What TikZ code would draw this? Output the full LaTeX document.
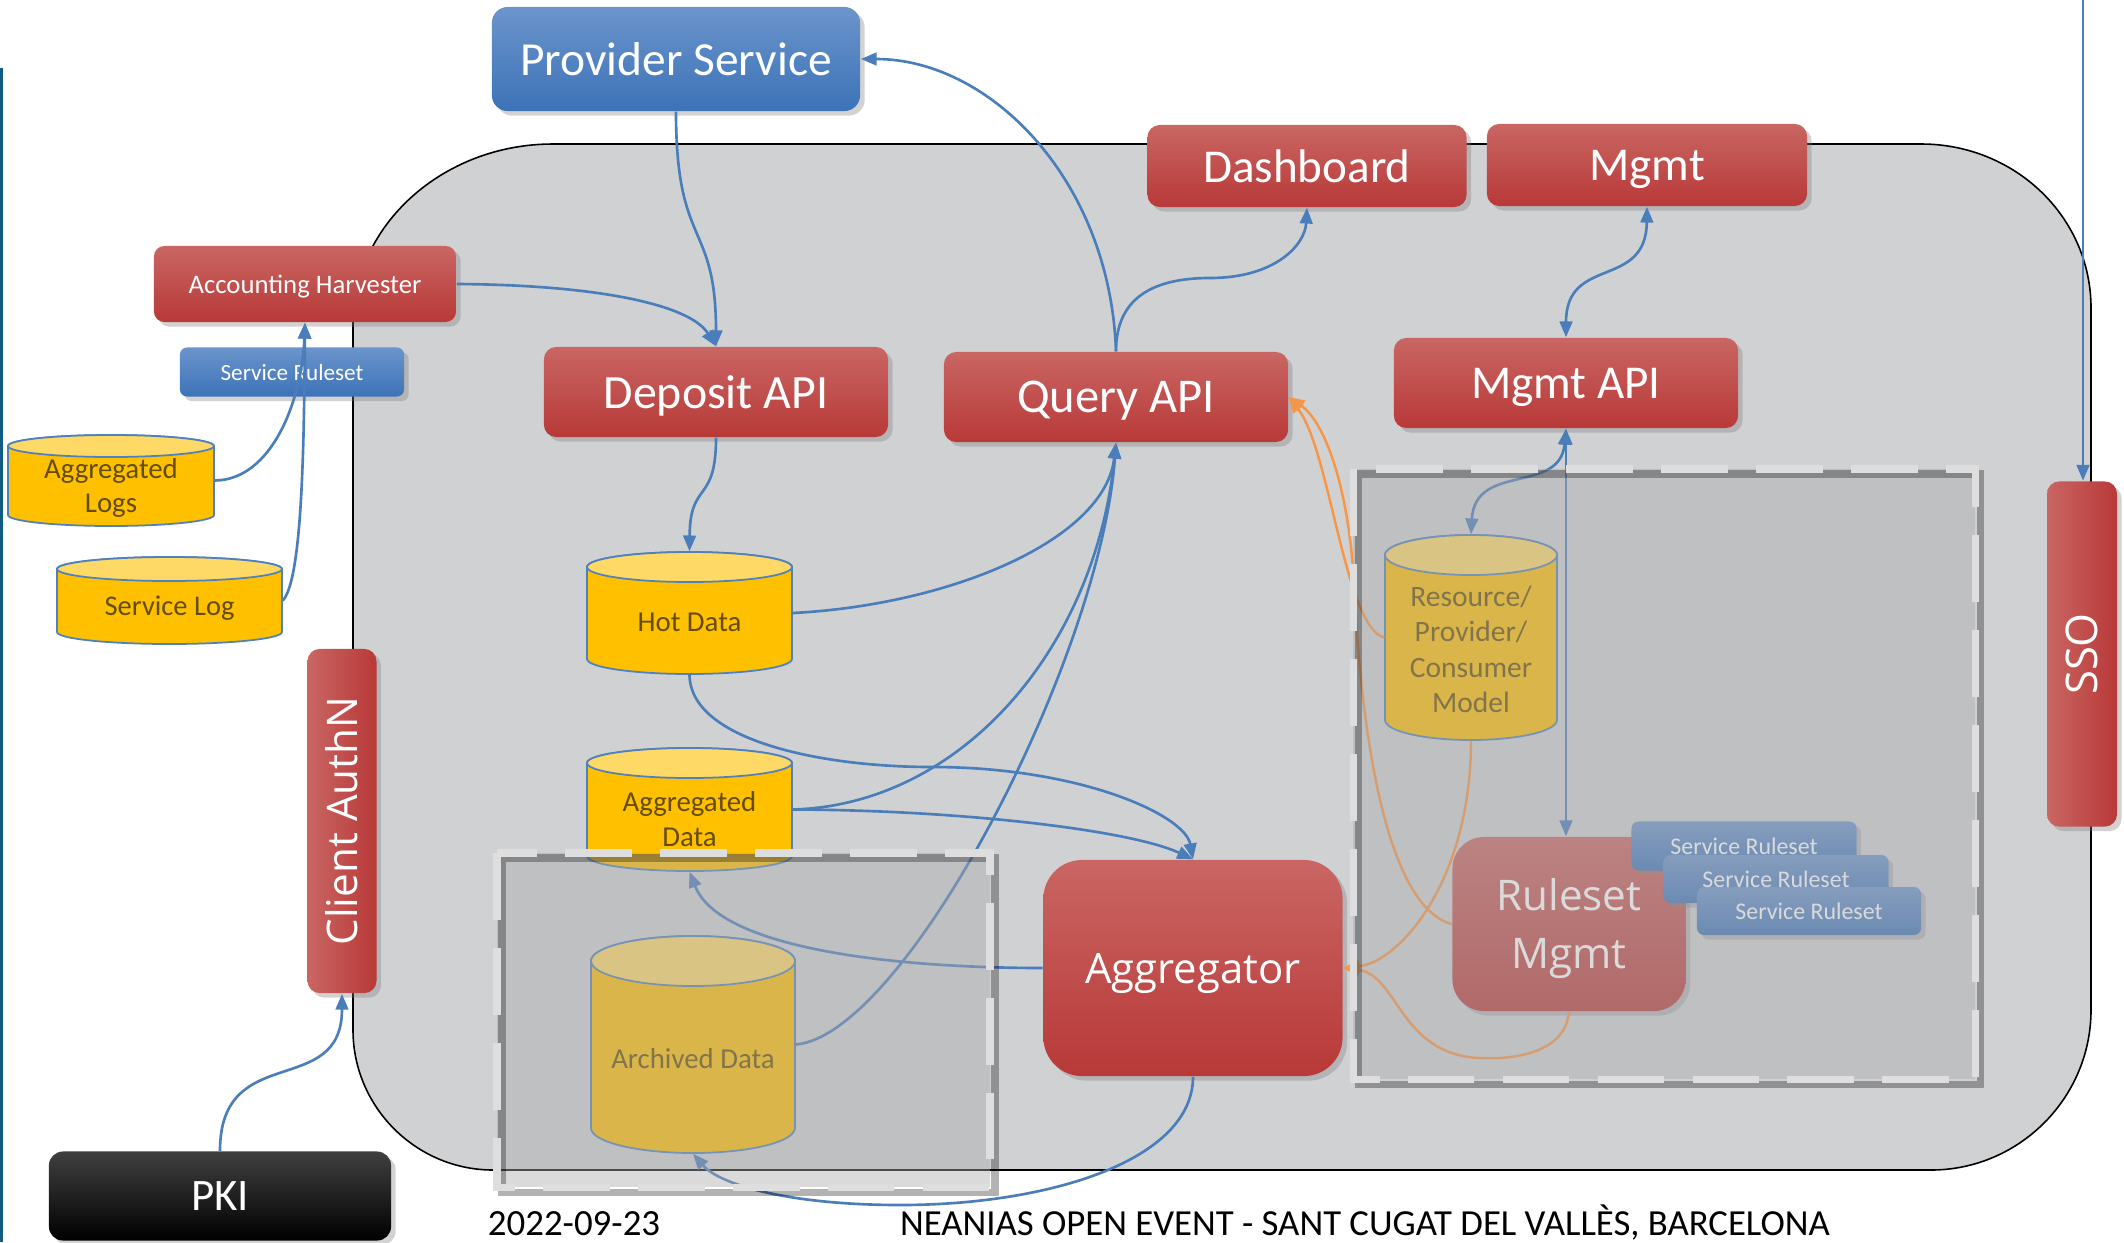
\documentclass[tikz,border=0pt]{standalone}
\usepackage{fontspec}
\setmainfont{Carlito}
\newfontfamily\osans{Open Sans}
\usetikzlibrary{arrows.meta,shadows}
\definecolor{redtop}{RGB}{201,102,99}
\definecolor{redbot}{RGB}{184,57,56}
\definecolor{bluetop}{RGB}{107,148,204}
\definecolor{bluebot}{RGB}{60,115,183}
\definecolor{linkblue}{RGB}{74,126,187}
\definecolor{orangeln}{RGB}{247,150,70}
\definecolor{regiongray}{RGB}{208,209,211}
\definecolor{cylbody}{RGB}{255,192,0}
\definecolor{cyltopc}{RGB}{255,217,102}
\definecolor{cylline}{RGB}{79,129,189}
\definecolor{cyltext}{RGB}{100,76,0}
\definecolor{veil}{RGB}{170,170,172}
\definecolor{dashlight}{RGB}{222,222,222}
\definecolor{edgeteal}{RGB}{16,92,132}
\definecolor{pkitop}{RGB}{64,64,64}
\tikzset{
  fsz/.style={font=\fontsize{#1}{\fpeval{#1*1.2}}\selectfont},
  box/.style={rounded corners=3.5pt, text=white, inner sep=0pt, align=center,
    text depth=0pt,
    drop shadow={shadow xshift=1.3pt, shadow yshift=-1.3pt, opacity=0.35}},
  freetext/.style={text height=, text depth=},
  redbox/.style={box, top color=redtop, bottom color=redbot},
  redvbox/.style={box, freetext, left color=redtop, right color=redbot},
  bluebox/.style={box, top color=bluetop, bottom color=bluebot},
  blackbox/.style={box, top color=pkitop, bottom color=black},
  tipb/.tip={Triangle[length=4.5pt,width=3.6pt]},
  link/.style={draw=linkblue, line width=0.75pt, -tipb},
  dlink/.style={draw=linkblue, line width=0.75pt, tipb-tipb},
  olink/.style={draw=orangeln, line width=0.7pt, -tipb},
  cyllabel/.style={text=cyltext, align=center, inner sep=0pt},
  veilbox/.style={fill=veil, opacity=0.43},
  dashshadow/.style={draw=black, opacity=0.3, line width=2pt},
  dashedge/.style={draw=dashlight, line width=2pt, dash pattern=on 19pt off 8pt},
}
% #1 name, #2 cx, #3 top, #4 bottom, #5 half width, #6 ellipse half height, #7 font size, #8 text
\newcommand\mycyl[8]{%
  \pgfmathsetmacro\cyxa{#2-#5}%
  \pgfmathsetmacro\cyxb{#2+#5}%
  \pgfmathsetmacro\cyyt{#3+#6}%
  \pgfmathsetmacro\cyyb{#4-#6}%
  \pgfmathsetmacro\cykw{0.5523*#5}%
  \pgfmathsetmacro\cykr{0.5523*#6}%
  \pgfmathsetmacro\cyww{0.02*#5}%
  \pgfmathsetmacro\cyhh{0.01*(#4-#3)}%
  \filldraw[fill=cylbody, draw=cylline, line width=0.5pt]
    ({\cyxa},{\cyyt}) -- ({\cyxa},{\cyyb})
    .. controls ({\cyxa},{\cyyb+\cykr}) and ({#2-\cykw},{#4}) .. ({#2},{#4})
    .. controls ({#2+\cykw},{#4}) and ({\cyxb},{\cyyb+\cykr}) .. ({\cyxb},{\cyyb})
    -- ({\cyxb},{\cyyt})
    .. controls ({\cyxb},{\cyyt-\cykr}) and ({#2+\cykw},{#3}) .. ({#2},{#3})
    .. controls ({#2-\cykw},{#3}) and ({\cyxa},{\cyyt-\cykr}) .. ({\cyxa},{\cyyt}) -- cycle;
  \filldraw[fill=cyltopc, draw=cylline, line width=0.5pt]
    ({\cyxa},{\cyyt})
    .. controls ({\cyxa},{\cyyt-\cykr}) and ({#2-\cykw},{#3}) .. ({#2},{#3})
    .. controls ({#2+\cykw},{#3}) and ({\cyxb},{\cyyt-\cykr}) .. ({\cyxb},{\cyyt})
    .. controls ({\cyxb},{\cyyt+\cykr}) and ({#2+\cykw},{#3+2*#6}) .. ({#2},{#3+2*#6})
    .. controls ({#2-\cykw},{#3+2*#6}) and ({\cyxa},{\cyyt+\cykr}) .. ({\cyxa},{\cyyt}) -- cycle;
  \node[inner sep=0pt, minimum width=\cyww cm, minimum height=\cyhh cm] (#1) at ({#2},{(#3+#4)/2}) {};
  \node[cyllabel, fsz=#7] (#1-t) at ({#2},{(#3+#4)/2+#6*0.5+2}) {#8};
}
\begin{document}
\begin{tikzpicture}[x=0.01cm, y=-0.01cm]
\useasboundingbox (0,0) rectangle (2124,1242);
\fill[white] (0,0) rectangle (2124,1242);
% main region
\filldraw[fill=regiongray, draw=black, line width=0.45pt]
  (553,144) -- (1921,144)
  .. controls (2015,144) and (2091,217) .. (2091,308)
  -- (2091,1010)
  .. controls (2091,1098) and (2019,1170) .. (1931,1170)
  -- (493,1170)
  .. controls (416,1170) and (353,1107) .. (353,1030)
  -- (353,324)
  .. controls (353,225) and (443,144) .. (553,144) -- cycle;
\draw[edgeteal, line width=0.9pt] (1,68) -- (1,1242);

% boxes
\node[bluebox, rounded corners=4.5pt, minimum width=3.68cm, minimum height=1.04cm, fsz=13.5] (prov) at (676,59) {Provider Service};
\node[redbox, rounded corners=3pt, minimum width=3.02cm, minimum height=0.76cm, fsz=7.6] (acch) at (305,284) {Accounting Harvester};
\node[bluebox, rounded corners=2pt, minimum width=2.24cm, minimum height=0.49cm, fsz=6.6] (srl) at (292,372) {Service Ruleset};
\node[redbox, minimum width=3.44cm, minimum height=0.90cm, fsz=13.6] (dep) at (716,392) {Deposit API};
\node[redbox, minimum width=3.44cm, minimum height=0.90cm, fsz=13.8] (qry) at (1116,397) {Query API};
\node[redbox, minimum width=3.19cm, minimum height=0.82cm, fsz=13.4] (dash) at (1307,166) {Dashboard};
\node[redbox, minimum width=3.20cm, minimum height=0.82cm, fsz=13.4] (mgmt) at (1647,165) {Mgmt};
\node[redbox, minimum width=3.44cm, minimum height=0.90cm, fsz=13.4] (mapi) at (1566,383) {Mgmt API};
\node[redvbox, minimum width=0.69cm, minimum height=3.44cm, fsz=12] (cauth) at (342,821) {\rotatebox{90}{\osans Client AuthN}};
\node[redvbox, minimum width=0.70cm, minimum height=3.45cm, fsz=12.4] (sso) at (2082,654) {\rotatebox{90}{\osans SSO}};
\node[blackbox, rounded corners=4pt, minimum width=3.42cm, minimum height=0.89cm, fsz=12.8] (pki) at (220,1196) {PKI};
\node[redbox, rounded corners=11pt, minimum width=2.99cm, minimum height=2.16cm, font=\osans\fontsize{11.9}{14}\selectfont] (aggr) at (1193,968) {Aggregator};
\node[redbox, freetext, rounded corners=9pt, minimum width=2.33cm, minimum height=1.74cm] (rmgmt) at (1569,924) {};
\node[text=white, align=center, inner sep=0pt, font=\osans\fontsize{12}{16.5}\selectfont] (rmgmt-t) at (1569,929) {Ruleset\\Mgmt};
\node[bluebox, rounded corners=2pt, minimum width=2.25cm, minimum height=0.49cm, fsz=6.8] (sra) at (1744,846) {Service Ruleset};
\node[bluebox, rounded corners=2pt, minimum width=2.25cm, minimum height=0.48cm, fsz=6.8] (srb) at (1776,879) {Service Ruleset};
\node[bluebox, rounded corners=2pt, minimum width=2.24cm, minimum height=0.48cm, fsz=6.8] (src) at (1809,911) {Service Ruleset};

% cylinders
\mycyl{aggl}{111}{435}{526}{103}{11}{8.2}{Aggregated\\Logs}
\mycyl{slog}{169.5}{557}{644}{112.5}{12}{8.1}{Service Log}
\mycyl{hot}{689.5}{552}{674}{102.5}{15}{8.2}{Hot Data}
\mycyl{aggd}{689.5}{748}{871}{102.5}{15}{8.2}{Aggregated\\Data}
\mycyl{arch}{693}{936}{1153}{102}{25}{8.2}{Archived Data}
\mycyl{model}{1471}{535}{740}{86}{20}{8.4}{Resource/\\Provider/\\Consumer\\Model}

% footer
\node[fsz=10.5, inner sep=0pt] (date) at (574,1224) {2022-09-23};
\node[fsz=10.45, inner sep=0pt] (event) at (1365,1222) {NEANIAS OPEN EVENT - SANT CUGAT DEL VALLÈS, BARCELONA};
\coordinate (ssoin) at (2083,0);

% blue connectors
\draw[link] (prov.south) .. controls (676,250) and (716,220) .. (dep.north);
\draw[link] (acch.east) .. controls (600,285) and (690,305) .. (dep.north);
\draw[link] (qry.north) .. controls (1110,180) and (990,59) .. (prov.east);
\draw[link] (qry.north) .. controls (1116,300) and (1150,278) .. (1210,278)
  .. controls (1275,278) and (1305,245) .. (dash.south);
\draw[dlink] (mgmt.south) .. controls (1646,290) and (1566,255) .. (mapi.north);
\draw[link] (dep.south) .. controls (716,505) and (690,480) .. (hot.north);
\draw[link] (hot.east) .. controls (950,605) and (1105,540) .. (qry.south);
\draw[link] (aggd.east) .. controls (960,805) and (1095,650) .. (qry.south);
\draw[link] (arch.east) .. controls (905,1035) and (1100,660) .. (qry.south);
\draw[link] (hot.south) .. controls (690,740) and (820,767) .. (932,767)
  .. controls (1080,767) and (1185,815) .. (aggr.north);
\draw[link] (aggd.east) .. controls (960,810) and (1130,830) .. (aggr.north);
\draw[link] (aggr.west) .. controls (900,968) and (720,950) .. (aggd.south);
\draw[link] (aggr.south) .. controls (1193,1160) and (1050,1205) .. (900,1205)
  .. controls (790,1205) and (720,1185) .. (arch.south);
\draw[dlink] (mapi.south) -- (mapi.south |- rmgmt.north);
\draw[dlink] (mapi.south) .. controls (1560,495) and (1475,462) .. (model.north);
\draw[link] (pki.north) .. controls (220,1040) and (342,1100) .. (cauth.south);
\draw[link] (ssoin) -- (ssoin |- sso.north);
\draw[link] (slog.east) .. controls (302,580) and (304,450) .. (acch.south);
\draw[link] (aggl.east) .. controls (272,480) and (302,400) .. (acch.south);

% orange connectors
\draw[olink] (model.west) .. controls (1345,628) and (1330,450) .. (qry.east);
\draw[olink] (rmgmt.west) .. controls (1380,905) and (1360,700) .. (1355,600)
  .. controls (1350,480) and (1322,420) .. (qry.east);
\draw[olink] (model.south) .. controls (1471,880) and (1400,962) .. (aggr.east);
\draw[olink] (rmgmt.south) .. controls (1566,1050) and (1520,1060) .. (1480,1058)
  .. controls (1400,1055) and (1398,975) .. (aggr.east);

% dashed veils
\fill[veilbox] (497,853) rectangle (990,1187);
\draw[dashshadow] (502,858) rectangle (995,1192);
\draw[dashedge] (497,853) rectangle (990,1187);
\fill[veilbox] (1353,469) rectangle (1975,1079);
\draw[dashshadow] (1358,474) rectangle (1980,1084);
\draw[dashedge] (1353,469) rectangle (1975,1079);
\end{tikzpicture}
\end{document}
